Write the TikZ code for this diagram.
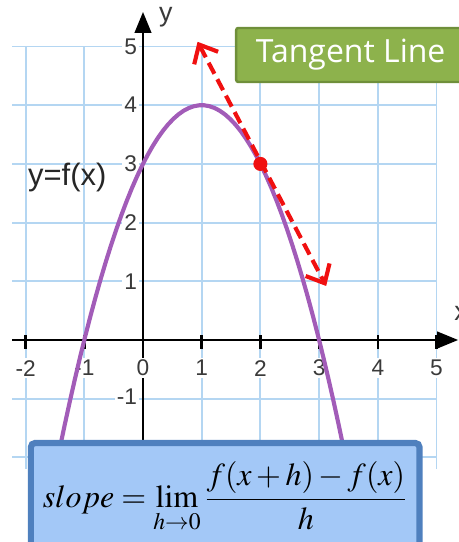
\documentclass[tikz,border=0pt]{standalone}
\usepackage{mathptmx}
\usepackage[no-math]{fontspec}
\newfontfamily\axisfont{Liberation Sans}
\newfontfamily\boxfont{Open Sans}
\usetikzlibrary{positioning,arrows.meta}
\definecolor{gridblue}{HTML}{B4D6F2}
\definecolor{curvepurple}{HTML}{A25CB8}
\definecolor{tanred}{HTML}{F01010}
\definecolor{boxgreen}{HTML}{8DB24C}
\definecolor{boxgreendark}{HTML}{6F8F3A}
\definecolor{boxblue}{HTML}{A3C8F7}
\definecolor{boxbluedark}{HTML}{4F80BE}
\definecolor{ticktext}{HTML}{3A3A3A}
\tikzset{
  gridline/.style={gridblue,line width=0.9pt},
  axis/.style={line width=1.4pt,-{Triangle[length=3.6mm,width=2.8mm]}},
  tickmark/.style={line width=1.2pt},
  ticklab/.style={font=\axisfont\fontsize{11}{13}\selectfont,text=ticktext,fill=white,inner sep=1pt},
  curve/.style={curvepurple,line width=2pt},
  tangent/.style={tanred,line width=2pt,dash pattern=on 6pt off 3pt,
    {Straight Barb[length=2.6mm,width=4.6mm]}-{Straight Barb[length=2.6mm,width=4.6mm]}},
  labelbox/.style={draw=boxgreendark,fill=boxgreen,line width=1.2pt,rounded corners=1pt,
    text=white,font=\boxfont\fontsize{15.5}{18}\selectfont},
  formulabox/.style={draw=boxbluedark,fill=boxblue,line width=3pt,rounded corners=2pt}
}
\begin{document}
\begin{tikzpicture}
\useasboundingbox (-2.436,-3.441) rectangle (5.366,5.792);
\foreach \x in {-2,...,5} \draw[gridline] (\x,-2.2) -- (\x,5);
\foreach \y in {-2,...,5} \draw[gridline] (-2.23,\y) -- (5,\y);

\coordinate (xstart) at (-2.23,0);
\coordinate (xend) at (5.37,0);
\coordinate (ystart) at (0,-1.8);
\coordinate (yend) at (0,5.59);
\draw[axis] (xstart) -- (xend);
\draw[axis] (ystart) -- (yend);
\foreach \x in {-2,-1,1,2,3,4,5} \draw[tickmark] (\x,0.08) -- (\x,-0.15);

\foreach \x in {-2,...,5} \node[ticklab] (xl\x) at (\x,-0.48) {\x};
\foreach \y in {1,...,5} \node[ticklab,anchor=east] (yl\y) at (-0.06,\y) {\y};
\node[ticklab,anchor=east] (ylm1) at (-0.06,-0.97) {-1};
\node[font=\axisfont\fontsize{13}{15}\selectfont,text=ticktext] (ylab) at (0.39,5.5) {y};
\node[font=\axisfont\fontsize{13}{15}\selectfont,text=ticktext] (xlab) at (5.42,0.46) {x};
\node[font=\axisfont\fontsize{15}{17}\selectfont,text=black!85] (flab) at (-1.29,2.76) {y=f(x)};

\draw[curve] plot[domain=-1.6:3.6,samples=60] (\x,{3+2*\x-(\x)*(\x)});

\coordinate (tanA) at (0.93,5.08);
\coordinate (tanB) at (3.12,0.92);
\draw[tangent] (tanA) -- (tanB);
\node[circle,fill=tanred,inner sep=0pt,minimum size=0.24cm] (touch) at (2,3) {};

\node[labelbox,anchor=west,minimum width=3.9cm,minimum height=0.92cm] (tanbox) at (1.567,4.855) {Tangent Line};
\node[formulabox,minimum width=6.62cm,minimum height=1.85cm] (slopebox) at (1.4,-2.68)
  {\fontsize{15.5}{19}\selectfont$\displaystyle slope=\lim_{h\to 0}\frac{f(x+h)-f(x)}{h}$};
\end{tikzpicture}
\end{document}
